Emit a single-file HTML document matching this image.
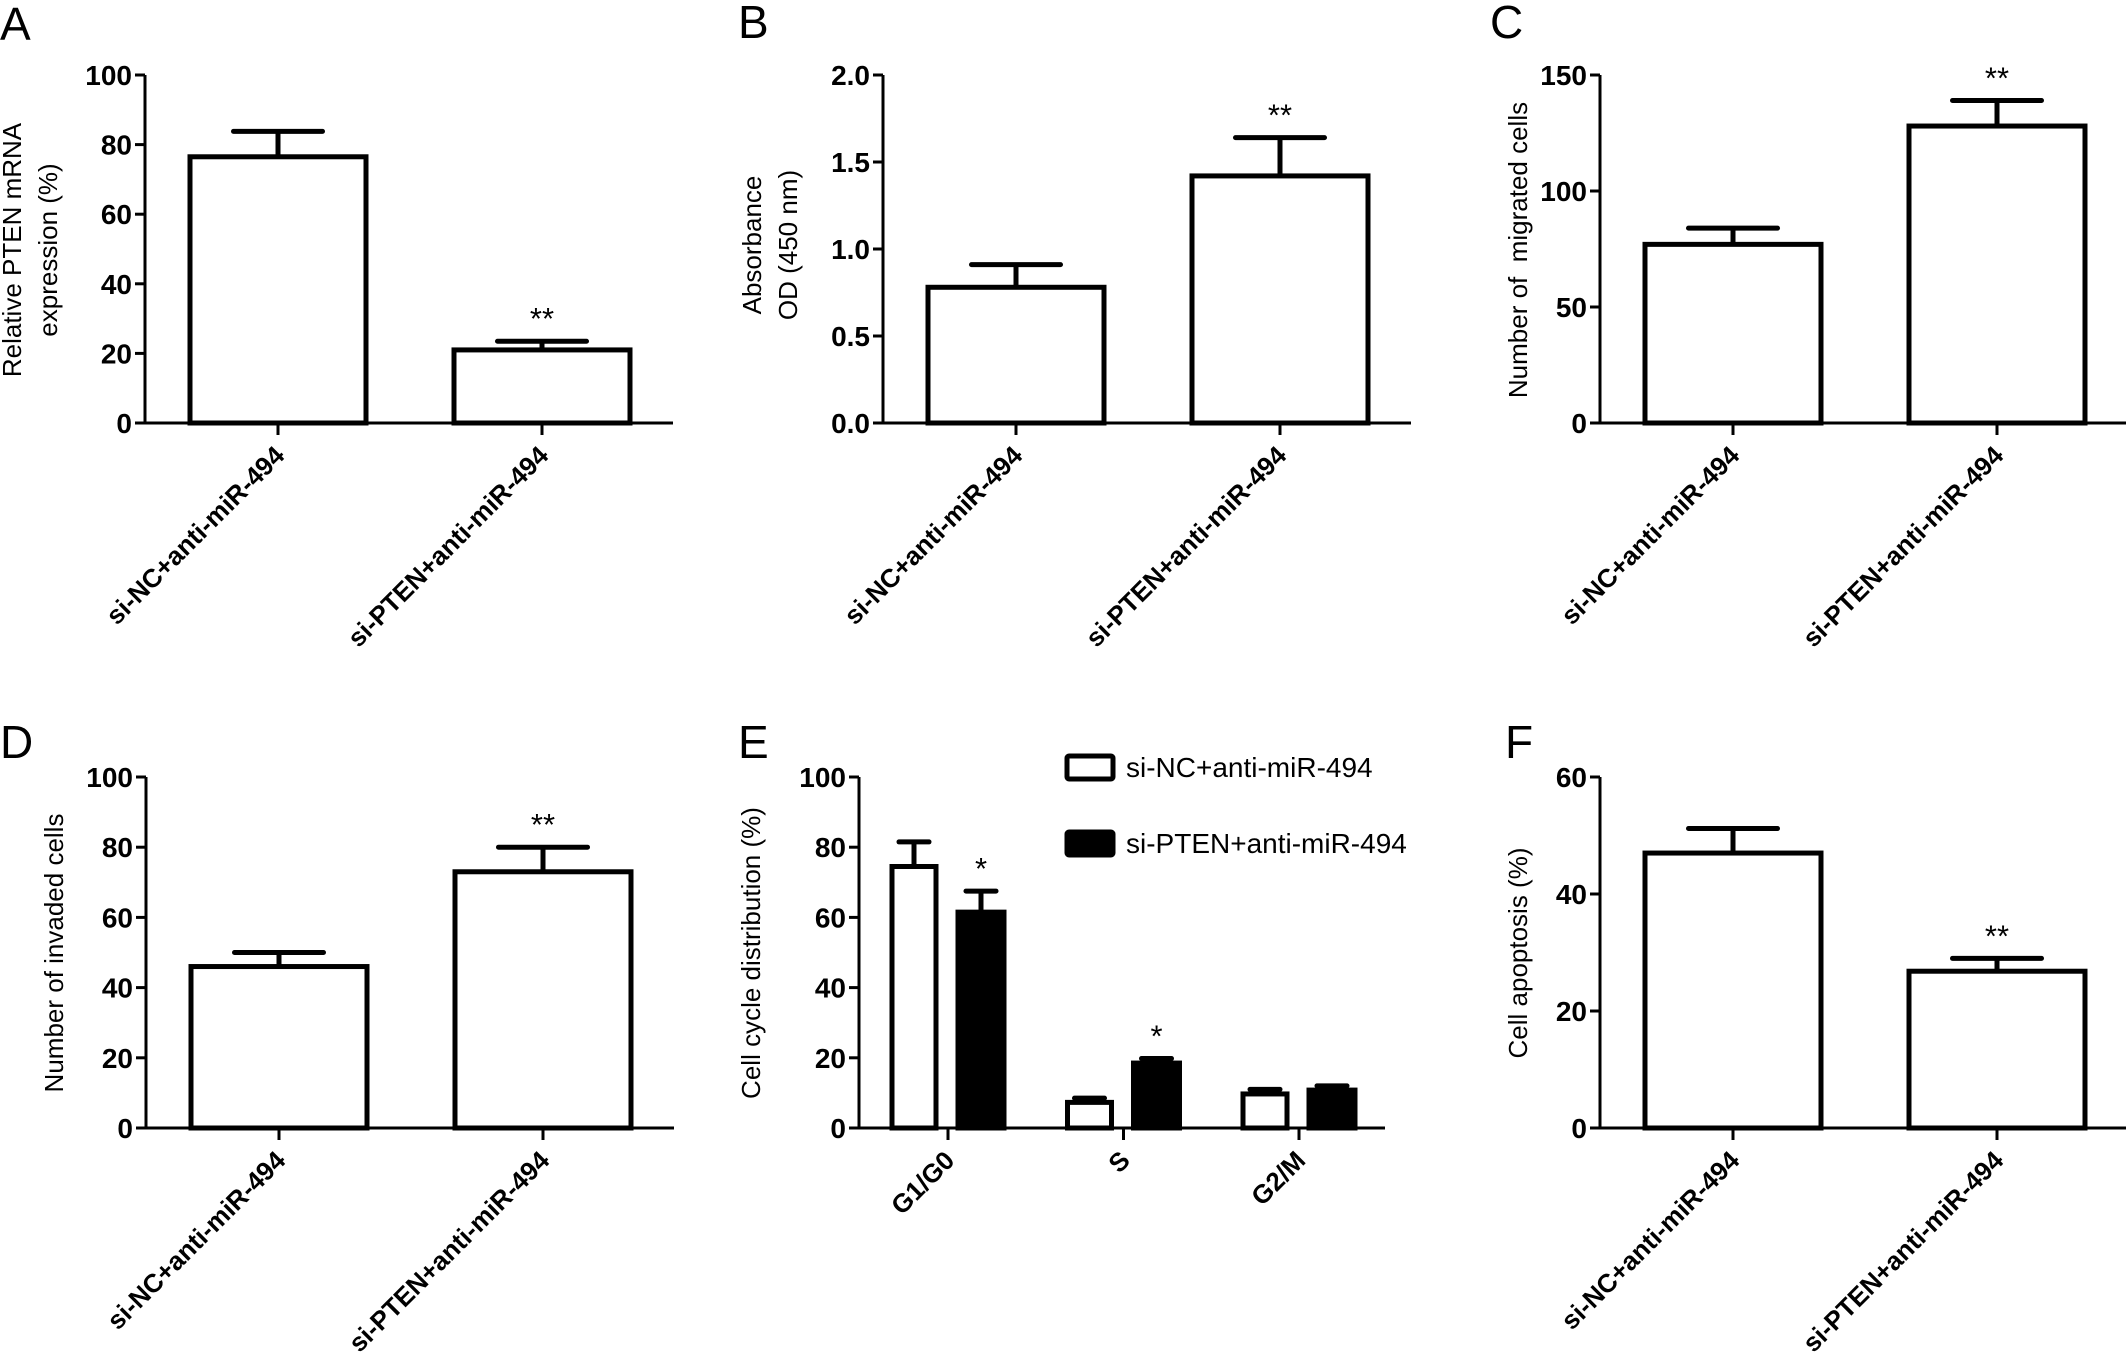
<!DOCTYPE html>
<html><head><meta charset="utf-8"><style>
html,body{margin:0;padding:0;background:#fff;}
svg{display:block;font-family:"Liberation Sans",Arial,sans-serif;}
text{white-space:pre;}
</style></head>
<body>
<svg id="fig" width="2126" height="1355" viewBox="0 0 2126 1355" xmlns="http://www.w3.org/2000/svg"></svg>
<script>
// ---- data ----
const groupLabels = ["si-NC+anti-miR-494", "si-PTEN+anti-miR-494"];
const aValues = [76.5, 21.0];
const aErrors = [7.3, 2.5];
const aStars = ["", "**"];
const bValues = [0.78, 1.42];
const bErrors = [0.13, 0.22];
const bStars = ["", "**"];
const cValues = [77, 128];
const cErrors = [7, 11];
const cStars = ["", "**"];
const dValues = [46, 73];
const dErrors = [4, 7];
const dStars = ["", "**"];
const eCategories = ["G1/G0", "S", "G2/M"];
const eNCValues = [74.5, 7.3, 9.7];
const eNCErrors = [7.0, 1.2, 1.3];
const ePTENValues = [61.5, 18.5, 10.8];
const ePTENErrors = [6.0, 1.3, 1.2];
const ePTENStars = ["*", "*", ""];
const fValues = [47, 26.8];
const fErrors = [4.2, 2.2];
const fStars = ["", "**"];
const aTicks = [0, 20, 40, 60, 80, 100];
const bTicks = [0, 0.5, 1.0, 1.5, 2.0];
const bTickLabels = ["0.0", "0.5", "1.0", "1.5", "2.0"];
const cTicks = [0, 50, 100, 150];
const dTicks = [0, 20, 40, 60, 80, 100];
const eTicks = [0, 20, 40, 60, 80, 100];
const fTicks = [0, 20, 40, 60];

const NS = "http://www.w3.org/2000/svg";
const svg = document.getElementById("fig");
function el(tag, attrs, parent, text) {
  const e = document.createElementNS(NS, tag);
  for (const k in attrs) e.setAttribute(k, attrs[k]);
  if (text !== undefined) e.textContent = text;
  (parent || svg).appendChild(e);
  return e;
}

function makePanel(p) {
  const g = el("g", {});
  
  
  const yScale = v => p.y0 - (v - p.ticks[0]) / (p.ticks[p.ticks.length - 1] - p.ticks[0]) * (p.y0 - p.yTop);
  const L = el("text", {x: p.letterX, y: p.letterY, "font-size": 46}, g, p.letter);
  
  
  const tl = el("text", {transform: `translate(${p.titleX},${p.titleY}) rotate(-90)`, "text-anchor": "middle", "font-size": 26}, g);
  
  
  p.title.forEach((t, i) => {
    el("tspan", {x: 0, dy: i === 0 ? 0 : 36}, tl, t);
  });
  p.series.forEach(s => {
    s.values.forEach((v, i) => {
      const cx = p.catX(i) + s.offset;
      const yv = yScale(v);
      const ye = yScale(v + s.errors[i]);
      const eb = el("line", {x1: cx, x2: cx, y1: yv, y2: ye, stroke: "#000", "stroke-width": 5}, g);
      
      
      const cap = el("line", {x1: cx - s.cap / 2, x2: cx + s.cap / 2, y1: ye, y2: ye, stroke: "#000", "stroke-width": 5, "stroke-linecap": "round"}, g);
      
      
      const r = el("rect", {x: cx - s.width / 2, y: yv, width: s.width, height: p.y0 - yv, fill: s.fill, stroke: "#000", "stroke-width": 5}, g);
      
      
      if (s.stars[i]) {
        const st = el("text", {x: cx, y: ye - 12, "text-anchor": "middle", "font-size": 31}, g, s.stars[i]);
        
        
      }
    });
  });
  const ya = el("line", {x1: p.axisX, x2: p.axisX, y1: p.yTop, y2: p.y0 + 1.5, stroke: "#000", "stroke-width": 3}, g);
  
  
  const xa = el("line", {x1: p.axisX - 10, x2: p.xEnd, y1: p.y0, y2: p.y0, stroke: "#000", "stroke-width": 3}, g);
  
  
  p.ticks.forEach((t, i) => {
    const y = yScale(t);
    const tk = el("line", {x1: p.axisX - 10, x2: p.axisX, y1: y, y2: y, stroke: "#000", "stroke-width": 3}, g);
    
    
    const lab = el("text", {x: p.axisX - 13, y: y + 10, "text-anchor": "end", "font-size": 28, "font-weight": "bold"}, g, p.tickLabels ? p.tickLabels[i] : String(t));
    
    
  });
  p.cats.forEach((c, i) => {
    const x = p.catX(i);
    const tk = el("line", {x1: x, x2: x, y1: p.y0, y2: p.y0 + 12, stroke: "#000", "stroke-width": 3}, g);
    
    
    const lab = el("text", {transform: `translate(${x + 8},${p.y0 + 34}) rotate(-45)`, "text-anchor": "end", "font-size": 26, "font-weight": "bold"}, g, c);
    
    
  });
  return g;
}

function twoBar(letter, axisX, yTop, y0, values, errors, stars, ticks, title, tX, tY, lX, lY, tickLabels) {
  const t1 = axisX + 133;
  makePanel({
    letter, letterX: lX, letterY: lY, axisX, yTop, y0, xEnd: Math.min(axisX + 528, 2126),
    ticks, tickLabels, title, titleX: tX, titleY: tY, cats: groupLabels,
    catX: i => t1 + i * 264,
    series: [{name: "group", values, errors, stars, offset: 0, width: 176, cap: 89, fill: "#fff"}]
  });
}

twoBar("A", 145, 75, 423, aValues, aErrors, aStars, aTicks, ["Relative PTEN mRNA", "expression (%)"], 21, 250, 0, 40);
twoBar("B", 883, 75, 423, bValues, bErrors, bStars, bTicks, ["Absorbance", "OD (450 nm)"], 761, 245, 738, 38, bTickLabels);
twoBar("C", 1600, 75, 423, cValues, cErrors, cStars, cTicks, ["Number of  migrated cells"], 1527, 250, 1490, 38);
twoBar("D", 146, 777, 1128, dValues, dErrors, dStars, dTicks, ["Number of invaded cells"], 63, 953, 0, 758);
twoBar("F", 1600, 777, 1128, fValues, fErrors, fStars, fTicks, ["Cell apoptosis (%)"], 1527, 953, 1505, 758);

makePanel({
  letter: "E", letterX: 738, letterY: 758, axisX: 859, yTop: 777, y0: 1128, xEnd: 1385,
  ticks: eTicks, title: ["Cell cycle distribution (%)"], titleX: 760, titleY: 953, cats: eCategories,
  catX: i => 948 + i * 175.5,
  series: [
    {name: "si-nc", values: eNCValues, errors: eNCErrors, stars: ["", "", ""], offset: -34, width: 44, cap: 30, fill: "#fff"},
    {name: "si-pten", values: ePTENValues, errors: ePTENErrors, stars: ePTENStars, offset: 33, width: 46, cap: 30, fill: "#000"}
  ]
});

const lg = el("g", {});


const legendItems = [["si-NC+anti-miR-494", "#fff", 756], ["si-PTEN+anti-miR-494", "#000", 832]];
legendItems.forEach(li => {
  const r = el("rect", {x: 1067, y: li[2], width: 46, height: 23, fill: li[1], stroke: "#000", "stroke-width": 5, rx: 2}, lg);
  
  
  const t = el("text", {x: 1126, y: li[2] + 21, "font-size": 28}, lg, li[0]);
  
  
});
</script>
</body></html>
